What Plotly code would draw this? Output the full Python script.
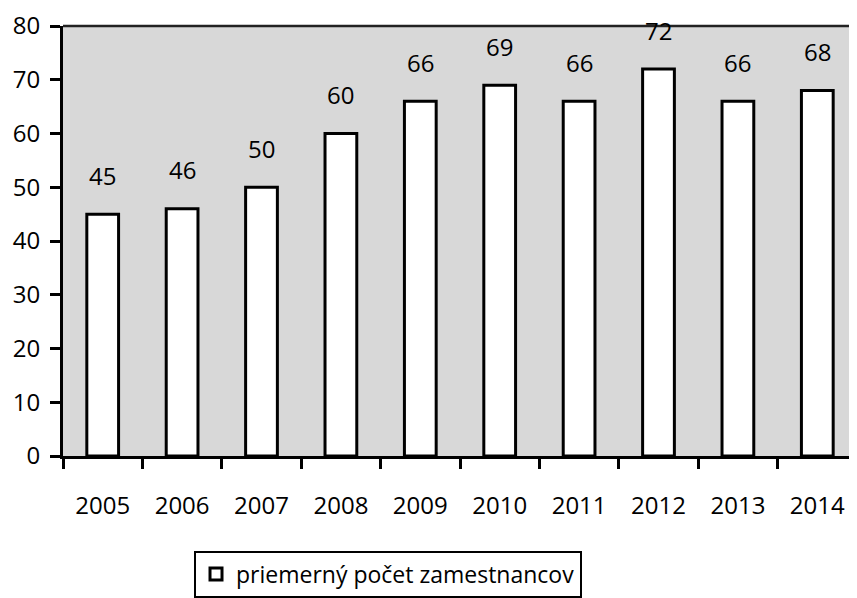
import plotly.graph_objects as go

years = ["2005", "2006", "2007", "2008", "2009", "2010", "2011", "2012", "2013", "2014"]
employees = [45, 46, 50, 60, 66, 69, 66, 72, 66, 68]
series_name = "priemerný počet zamestnancov"
y_ticks = [0, 10, 20, 30, 40, 50, 60, 70, 80]

FONT = "Open Sans"

fig = go.Figure()
fig.add_trace(go.Bar(
    x=years, y=employees, name=series_name,
    marker=dict(color="white", line=dict(color="black", width=3)),
    width=0.4, showlegend=True,
))

# data labels; on a category axis the position index addresses each category
for i, v in enumerate(employees):
    fig.add_annotation(x=i, y=v, text=str(v), showarrow=False,
                       yanchor="middle", yshift=39,
                       font=dict(family=FONT, size=24, color="black"))

fig.add_shape(type="line", xref="paper", yref="paper", x0=0, x1=1, y0=1, y1=1,
              line=dict(color="#222222", width=2.5))

# the page body adds an 8px margin, so the figure is sized to fit the window
fig.update_layout(
    width=849, height=590,
    margin=dict(l=55, r=0, t=14, b=137),
    paper_bgcolor="white",
    plot_bgcolor="#d8d8d8",
    bargap=0.6,
    font=dict(family=FONT, size=24, color="black"),
    xaxis=dict(
        type="category", categoryorder="array", categoryarray=years,
        range=[-0.5, len(years) - 0.5],
        tickson="boundaries", ticks="outside", ticklen=10, tickangle=0,
        tickwidth=2.5, tickcolor="black", showline=True, linecolor="black",
        linewidth=3, showgrid=False, tickfont=dict(family=FONT, size=24),
        ticklabelstandoff=26, ticklabeloverflow="allow",
    ),
    yaxis=dict(
        range=[0, 80], tickvals=y_ticks, ticks="outside", ticklen=10,
        tickwidth=3, tickcolor="black", showline=True, linecolor="black",
        linewidth=3, showgrid=False, zeroline=False,
        tickfont=dict(family=FONT, size=24),
        ticklabelstandoff=5, ticklabeloverflow="allow",
    ),
    legend=dict(
        orientation="h", x=0.165, xanchor="left", y=-0.22, yanchor="top",
        bordercolor="black", borderwidth=2, bgcolor="white",
        font=dict(family=FONT, size=23), itemwidth=30,
    ),
)

fig.write_html("out.html")
